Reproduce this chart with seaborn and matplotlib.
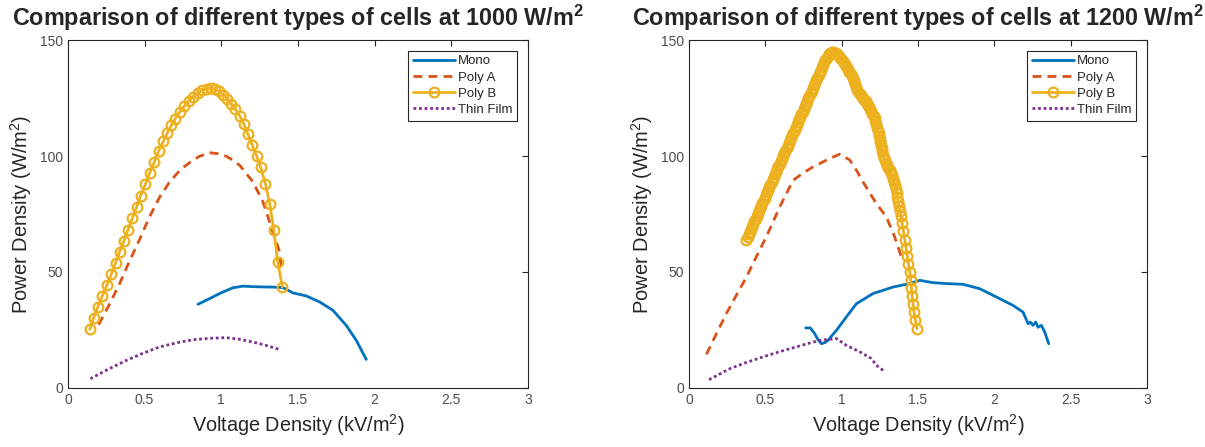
import numpy as np
import pandas as pd
import matplotlib
matplotlib.use('Agg')
import matplotlib.pyplot as plt
import seaborn as sns

# ---- data ----
# 1000 W/m2
mono_x_1000 = [0.848, 0.92, 0.989, 1.04, 1.076, 1.141, 1.20, 1.25, 1.33, 1.402, 1.467, 1.554, 1.641, 1.728, 1.815, 1.88, 1.946]
mono_y_1000 = [36.1, 38.4, 40.7, 42.2, 43.2, 43.9, 43.7, 43.6, 43.5, 43.3, 41.0, 39.7, 37.1, 33.5, 27.0, 20.6, 12.3]

polyA_x_1000 = [0.20, 0.27, 0.337, 0.40, 0.467, 0.53, 0.598, 0.66, 0.729, 0.80, 0.859, 0.924, 0.98, 1.033, 1.08, 1.12, 1.207, 1.272, 1.326, 1.381, 1.39]
polyA_y_1000 = [27.3, 36.0, 45.0, 54.5, 64.0, 73.5, 82.3, 88.5, 93.8, 97.5, 99.9, 101.4, 101.0, 99.9, 98.0, 96.0, 88.8, 80.2, 69.4, 58.6, 52.0]

polyB_x_1000 = [0.142, 0.168, 0.196, 0.224, 0.255, 0.283, 0.311, 0.337, 0.365, 0.392, 0.420, 0.448,
                0.474, 0.505, 0.533, 0.563, 0.592, 0.622, 0.648, 0.674, 0.700, 0.729, 0.757, 0.787,
                0.816, 0.848, 0.877, 0.905, 0.931, 0.959, 0.985, 1.011, 1.038, 1.066, 1.092, 1.120,
                1.148, 1.174, 1.203, 1.231, 1.257, 1.288, 1.316, 1.342, 1.368, 1.398]
polyB_y_1000 = [25.3, 30.3, 35.1, 39.7, 44.4, 49.1, 54.0, 58.8, 63.4, 68.3, 73.1, 78.0,
                82.9, 87.9, 92.7, 97.4, 102.2, 106.3, 109.9, 113.2, 116.1, 119.0, 121.4, 123.7,
                125.6, 127.2, 128.3, 129.0, 129.5, 129.0, 128.0, 126.4, 124.5, 122.5, 120.2, 117.3,
                113.6, 109.3, 104.6, 100.0, 95.1, 88.1, 79.5, 68.3, 54.5, 43.6]

thin_x_1000 = [0.146, 0.26, 0.381, 0.49, 0.598, 0.71, 0.816, 0.92, 1.033, 1.12, 1.207, 1.29, 1.375]
thin_y_1000 = [4.0, 8.0, 11.9, 15.0, 17.7, 19.5, 20.8, 21.4, 21.7, 21.0, 19.8, 18.4, 16.7]

# 1200 W/m2
mono_x_1200 = [0.764, 0.795, 0.823, 0.845, 0.867, 0.890, 0.910, 0.935, 0.965, 1.030, 1.096, 1.205, 1.336,
               1.446, 1.511, 1.598, 1.686, 1.795, 1.904, 2.014, 2.122, 2.188, 2.221, 2.236, 2.253,
               2.271, 2.286, 2.308, 2.330, 2.356]
mono_y_1200 = [25.9, 25.9, 23.4, 20.8, 19.1, 19.6, 20.5, 22.5, 24.8, 30.6, 36.3, 40.7, 43.5,
               45.0, 46.4, 45.4, 45.0, 44.7, 42.8, 39.2, 35.6, 32.7, 27.7, 28.4, 27.0,
               28.4, 26.2, 27.0, 24.1, 19.1]

polyA_x_1200 = [0.114, 0.18, 0.245, 0.31, 0.376, 0.44, 0.506, 0.594, 0.681, 0.75, 0.812, 0.921, 0.987,
                1.052, 1.10, 1.140, 1.227, 1.293, 1.347, 1.391]
polyA_y_1200 = [14.5, 23.5, 32.1, 40.0, 47.8, 56.5, 65.1, 78.0, 89.5, 92.8, 95.3, 98.9, 100.8,
                98.3, 93.5, 88.8, 79.5, 73.7, 65.1, 56.5]

# dense sampling: in the picture this series is drawn as an almost solid band of circles
polyB_x_1200 = [0.376, 0.3835, 0.391, 0.3985, 0.406, 0.4135, 0.421, 0.4285, 0.436, 0.4435, 0.451, 0.4585,
                0.466, 0.4735, 0.481, 0.4885, 0.496, 0.5035, 0.511, 0.5185, 0.526, 0.5335, 0.541, 0.5485,
                0.556, 0.5635, 0.571, 0.5785, 0.586, 0.5935, 0.601, 0.6085, 0.616, 0.6235, 0.631, 0.6385,
                0.646, 0.6535, 0.661, 0.6685, 0.676, 0.6835, 0.691, 0.6985, 0.706, 0.7135, 0.721, 0.7285,
                0.736, 0.7435, 0.751, 0.7585, 0.766, 0.7735, 0.781, 0.7885, 0.796, 0.8035, 0.811, 0.8185,
                0.826, 0.8335, 0.841, 0.8485, 0.856, 0.8635, 0.871, 0.8785, 0.886, 0.8935, 0.901, 0.9085,
                0.916, 0.9235, 0.931, 0.9385, 0.946, 0.9535, 0.961, 0.9685, 0.976, 0.9835, 0.991, 0.9985,
                1.006, 1.0135, 1.021, 1.0285, 1.036, 1.0435, 1.051, 1.0585, 1.066, 1.0735, 1.081, 1.0885,
                1.096, 1.1035, 1.111, 1.1185, 1.126, 1.1335, 1.141, 1.1485, 1.156, 1.1635, 1.171, 1.1785,
                1.186, 1.1935, 1.201, 1.2085, 1.216, 1.221, 1.226, 1.231, 1.236, 1.242, 1.246, 1.250,
                1.254, 1.258, 1.262, 1.267, 1.272, 1.277, 1.282, 1.290, 1.298, 1.306, 1.314, 1.322,
                1.329, 1.336, 1.343, 1.349, 1.354, 1.359, 1.364, 1.369, 1.375, 1.381, 1.387, 1.395,
                1.404, 1.413, 1.421, 1.429, 1.437, 1.445, 1.452, 1.457, 1.462, 1.467, 1.474, 1.483, 1.493]
polyB_y_1200 = [64.0, 65.1, 66.3, 67.4, 68.5, 69.6, 70.8, 71.9, 73.0, 74.1, 75.3, 76.4,
                77.5, 78.6, 79.8, 80.9, 82.0, 83.1, 84.3, 85.4, 86.5, 87.6, 88.8, 89.9,
                91.0, 92.1, 93.3, 94.4, 95.5, 96.6, 97.8, 98.9, 100.0, 101.1, 102.3, 103.4,
                104.5, 105.6, 106.8, 107.9, 109.0, 110.1, 111.3, 112.4, 113.5, 114.6, 115.8, 116.9,
                118.0, 119.1, 120.3, 121.4, 122.5, 123.6, 124.8, 125.9, 127.0, 128.1, 129.3, 130.4,
                131.5, 132.6, 133.8, 134.9, 136.0, 137.1, 138.2, 139.3, 140.4, 141.4, 142.3, 143.1,
                143.8, 144.3, 144.6, 144.8, 144.8, 144.6, 144.3, 143.9, 143.4, 142.9, 142.3, 141.6,
                140.9, 140.2, 139.5, 138.8, 138.1, 137.3, 136.4, 135.5, 134.6, 133.6, 132.4, 131.0,
                129.6, 128.3, 127.3, 126.6, 126.1, 125.6, 125.0, 124.3, 123.5, 122.6, 121.8, 121.0,
                120.1, 119.2, 118.3, 117.4, 116.5, 115.0, 113.6, 112.2, 110.8, 109.8, 108.5, 107.2,
                105.9, 104.6, 103.4, 102.0, 100.6, 99.3, 98.1, 97.0, 96.0, 94.9, 93.8, 92.8,
                91.6, 90.2, 88.8, 87.3, 85.8, 84.0, 82.3, 80.6, 78.5, 76.4, 74.3, 71.0,
                67.5, 64.0, 60.5, 57.0, 53.5, 50.0, 46.5, 43.0, 39.5, 36.1, 32.6, 29.1, 25.6]

thin_x_1200 = [0.131, 0.267, 0.375, 0.485, 0.60, 0.703, 0.78, 0.856, 0.92, 0.965, 1.030, 1.118, 1.194, 1.227, 1.271]
thin_y_1200 = [3.6, 8.3, 11.0, 13.4, 15.8, 17.7, 19.2, 20.5, 21.0, 21.3, 18.4, 15.6, 12.7, 9.8, 7.6]

titles = ['Comparison of different types of cells at 1000 W/m$^{\\mathbf{2}}$',
          'Comparison of different types of cells at 1200 W/m$^{\\mathbf{2}}$']

sns.set_style('white')
plt.rcParams['font.family'] = ['Liberation Sans', 'DejaVu Sans']
plt.rcParams['mathtext.fontset'] = 'custom'
plt.rcParams['mathtext.rm'] = 'Liberation Sans'
plt.rcParams['mathtext.bf'] = 'Liberation Sans:bold'

blue = '#0072BD'
orange = '#D95319'
yellow = '#EDB120'
purple = '#7E2F8E'

fig = plt.figure(figsize=(12.05, 4.47), dpi=100)
ax1 = fig.add_axes([0.0564, 0.132, 0.3817, 0.7785])
ax2 = fig.add_axes([0.5718, 0.132, 0.3801, 0.7785])

sets = [
    (ax1, mono_x_1000, mono_y_1000, polyA_x_1000, polyA_y_1000, polyB_x_1000, polyB_y_1000, thin_x_1000, thin_y_1000),
    (ax2, mono_x_1200, mono_y_1200, polyA_x_1200, polyA_y_1200, polyB_x_1200, polyB_y_1200, thin_x_1200, thin_y_1200),
]

for i, (ax, mx, my, ax_, ay_, bx, by, tx, ty) in enumerate(sets):
    sns.lineplot(x=mx, y=my, ax=ax, sort=False, estimator=None, color=blue, lw=2, label='Mono')
    sns.lineplot(x=ax_, y=ay_, ax=ax, sort=False, estimator=None, color=orange, lw=2,
                 linestyle=(0, (3.2, 2.2)), label='Poly A')
    sns.lineplot(x=bx, y=by, ax=ax, sort=False, estimator=None, color=yellow, lw=2,
                 marker='o', markersize=7, markerfacecolor='none', markeredgecolor=yellow,
                 markeredgewidth=1.6, label='Poly B')
    sns.lineplot(x=tx, y=ty, ax=ax, sort=False, estimator=None, color=purple, lw=2,
                 linestyle=(0, (1, 1)), label='Thin Film')

    ax.set_xlim(0, 3)
    ax.set_ylim(0, 150)
    ax.set_xticks([0, 0.5, 1, 1.5, 2, 2.5, 3])
    ax.set_xticklabels(['0', '0.5', '1', '1.5', '2', '2.5', '3'])
    ax.set_yticks([0, 50, 100, 150])
    ax.tick_params(direction='in', top=True, right=True, length=4, width=0.8,
                   colors='#262626', labelcolor='#4d4d4d', labelsize=10)
    for sp in ax.spines.values():
        sp.set_color('#262626')
        sp.set_linewidth(0.8)
    ax.set_xlabel('Voltage Density (kV/m$^2$)', fontsize=14.3, color='#262626')
    ax.set_ylabel('Power Density (W/m$^2$)', fontsize=14.5, color='#262626', labelpad=4)
    ax.set_title(titles[i], fontsize=16.8, fontweight='bold', pad=10)
    leg = ax.legend(loc='upper right', fontsize=9.5, frameon=True, fancybox=False,
                    edgecolor='#262626', framealpha=1, handlelength=3.2, borderpad=0.35,
                    labelspacing=0.3, handletextpad=0.25, borderaxespad=0.8)
    leg.get_frame().set_linewidth(0.8)
    for line in leg.get_lines():
        if line.get_label() == 'Poly B':
            line.set_markevery([1])

fig.savefig('out.png', dpi=100)
